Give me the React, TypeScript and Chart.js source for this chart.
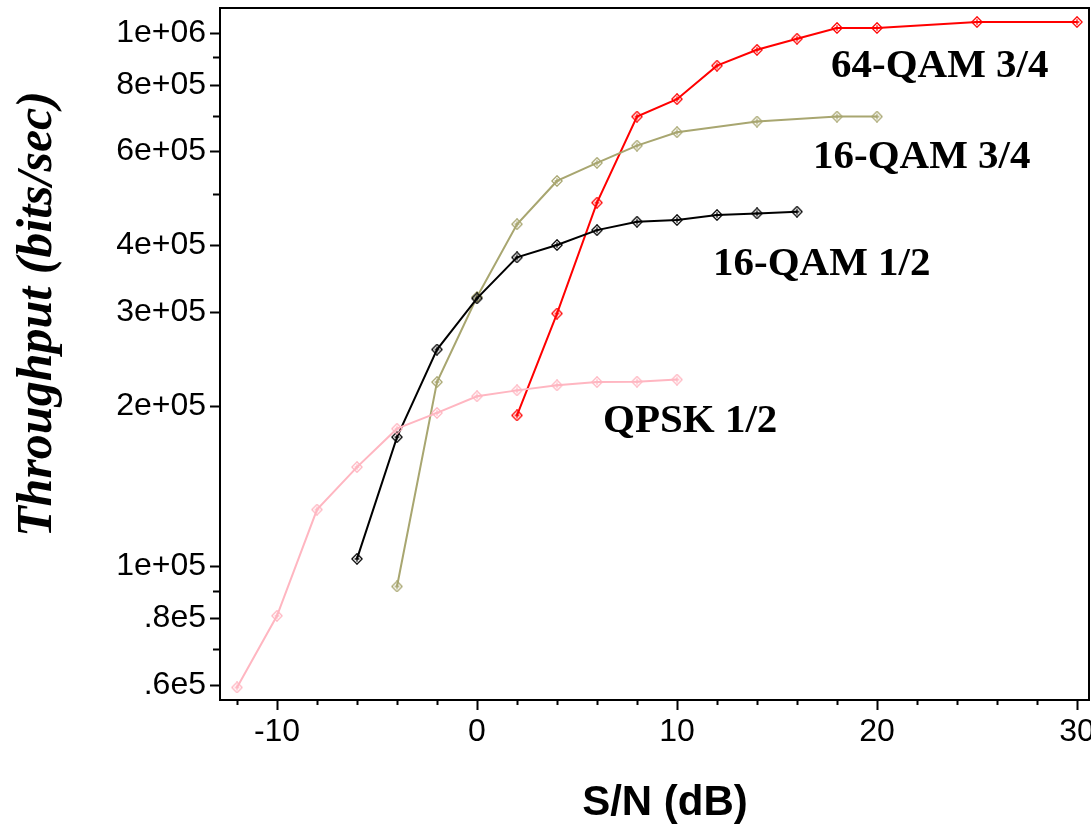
import React, { useEffect, useRef } from 'react';
import { Chart, registerables } from 'chart.js';

Chart.register(...registerables);

// ---- data ----
const qpskSnr = [-12, -10, -8, -6, -4, -2, 0, 2, 4, 6, 8, 10];
const qpskThroughput = [59300, 80800, 127800, 153500, 181200, 194000, 208400, 213800, 218500, 221600, 222000, 224000];

const qam16HalfSnr = [-6, -4, -2, 0, 2, 4, 6, 8, 10, 12, 14, 16];
const qam16HalfThroughput = [103300, 174700, 255000, 318000, 379600, 400400, 427000, 442800, 446000, 455800, 459000, 462400];

const qam16ThreeQSnr = [-4, -2, 0, 2, 4, 6, 8, 10, 14, 18, 20];
const qam16ThreeQThroughput = [91700, 221600, 320000, 438000, 528000, 571000, 615000, 651700, 682300, 697000, 697000];

const qam64ThreeQSnr = [2, 4, 6, 8, 10, 12, 14, 16, 18, 20, 25, 30];
const qam64ThreeQThroughput = [191900, 297900, 480800, 697000, 751600, 868600, 930000, 975600, 1021900, 1021900, 1048600, 1048600];

const seriesNames = ['QPSK 1/2', '16-QAM 1/2', '16-QAM 3/4', '64-QAM 3/4'];
const seriesColors = ['rgb(255,182,193)', 'rgb(0,0,0)', 'rgb(168,166,112)', 'rgb(255,0,0)'];
// label anchor (left, baseline) in data coordinates
const labelSnr = [6.3, 11.8, 16.8, 17.7];
const labelThroughput = [178300, 351600, 557800, 828700];

const xTickValues = [-12, -10, -8, -6, -4, -2, 0, 2, 4, 6, 8, 10, 12, 14, 16, 18, 20, 22, 24, 26, 28, 30];
const xLabeledTicks = [-10, 0, 10, 20, 30];

const yMajorTicks = [60000, 80000, 100000, 200000, 300000, 400000, 600000, 800000, 1000000];
const yMajorLabels = ['.6e5', '.8e5', '1e+05', '2e+05', '3e+05', '4e+05', '6e+05', '8e+05', '1e+06'];
const yMinorTicks = [70000, 90000, 500000, 700000, 900000];

const xTitle = 'S/N (dB)';
const yTitle = 'Throughput (bits/sec)';

function makeMarker(color: string): HTMLCanvasElement {
  const c = document.createElement('canvas');
  c.width = 12;
  c.height = 12;
  const g = c.getContext('2d')!;
  g.strokeStyle = color;
  g.lineWidth = 1.3;
  g.beginPath();
  g.moveTo(6, 0.8);
  g.lineTo(11.2, 6);
  g.lineTo(6, 11.2);
  g.lineTo(0.8, 6);
  g.closePath();
  g.stroke();
  g.beginPath();
  g.moveTo(6, 3.2);
  g.lineTo(6, 8.8);
  g.moveTo(3.6, 6);
  g.lineTo(8.4, 6);
  g.stroke();
  return c;
}

function zeroPadding(scale: any) {
  scale.paddingTop = 0;
  scale.paddingBottom = 0;
  scale.paddingLeft = 0;
  scale.paddingRight = 0;
}

const overlayPlugin = {
  id: 'overlay',
  afterDraw(chart: any) {
    const { ctx, chartArea: a, scales } = chart;
    const xs = scales.x;
    const ys = scales.y;
    ctx.save();
    // frame
    ctx.strokeStyle = '#000';
    ctx.lineWidth = 2;
    ctx.strokeRect(a.left, a.top, a.right - a.left, a.bottom - a.top);
    // tick marks
    ctx.beginPath();
    xs.ticks.forEach((t: any) => {
      const px = Math.round(xs.getPixelForValue(t.value)) + 0.5;
      const len = xLabeledTicks.includes(t.value) ? 10 : 5;
      ctx.moveTo(px, a.bottom);
      ctx.lineTo(px, a.bottom + len);
    });
    ys.ticks.forEach((t: any) => {
      const py = Math.round(ys.getPixelForValue(t.value)) + 0.5;
      const len = yMajorTicks.includes(t.value) ? 10 : 7;
      ctx.moveTo(a.left - len, py);
      ctx.lineTo(a.left, py);
    });
    ctx.stroke();

    // series labels
    ctx.fillStyle = '#000';
    ctx.font = 'bold 41px "Liberation Serif", "Times New Roman", serif';
    ctx.textAlign = 'left';
    ctx.textBaseline = 'alphabetic';
    seriesNames.forEach((name, i) => {
      ctx.fillText(name, xs.getPixelForValue(labelSnr[i]), ys.getPixelForValue(labelThroughput[i]));
    });

    // x title
    ctx.font = 'bold 42px "Liberation Sans", Arial, sans-serif';
    ctx.textAlign = 'center';
    ctx.fillText(xTitle, a.left + 445, a.bottom + 115);

    // y title
    ctx.save();
    ctx.translate(a.left - 182, a.top + 306);
    ctx.rotate(-Math.PI / 2);
    ctx.font = 'italic bold 50px "Liberation Serif", "Times New Roman", serif';
    ctx.textAlign = 'center';
    ctx.textBaseline = 'middle';
    ctx.fillText(yTitle, 0, 0);
    ctx.restore();

    ctx.restore();
  },
};

export default function App() {
  const ref = useRef<HTMLCanvasElement | null>(null);

  useEffect(() => {
    if (!ref.current) return;
    const series = [
      [qpskSnr, qpskThroughput],
      [qam16HalfSnr, qam16HalfThroughput],
      [qam16ThreeQSnr, qam16ThreeQThroughput],
      [qam64ThreeQSnr, qam64ThreeQThroughput],
    ];
    const datasets = series.map(([xs, ys], i) => ({
      label: seriesNames[i],
      data: xs.map((x, j) => ({ x, y: ys[j] })),
      borderColor: seriesColors[i],
      backgroundColor: seriesColors[i],
      borderWidth: 2,
      showLine: true,
      pointStyle: makeMarker(seriesColors[i]) as any,
      pointRadius: 6,
      pointHoverRadius: 6,
      tension: 0,
    }));

    const chart = new Chart(ref.current, {
      type: 'scatter',
      data: { datasets },
      plugins: [overlayPlugin],
      options: {
        animation: false,
        responsive: false,
        devicePixelRatio: 1,
        layout: { autoPadding: false, padding: { top: 8, right: 2, left: 0, bottom: 0 } },
        plugins: {
          legend: { display: false },
          tooltip: { enabled: false },
        },
        scales: {
          x: {
            type: 'linear',
            min: -12.85,
            max: 30.6,
            grid: { display: false },
            border: { display: false },
            afterBuildTicks: (scale: any) => {
              scale.ticks = xTickValues.map((v) => ({ value: v }));
            },
            afterFit: (scale: any) => {
              scale.height = 126;
              zeroPadding(scale);
            },
            ticks: {
              autoSkip: false,
              maxRotation: 0,
              padding: 5,
              color: '#000',
              font: { family: '"Liberation Sans", Arial, sans-serif', size: 32 },
              callback: (v: any) => (xLabeledTicks.includes(Number(v)) ? String(v) : ''),
            },
          },
          y: {
            type: 'logarithmic',
            min: 56170,
            max: 1114000,
            grid: { display: false },
            border: { display: false },
            afterBuildTicks: (scale: any) => {
              scale.ticks = [...yMajorTicks, ...yMinorTicks]
                .sort((p, q) => p - q)
                .map((v) => ({ value: v }));
            },
            afterFit: (scale: any) => {
              scale.width = 220;
              zeroPadding(scale);
            },
            ticks: {
              autoSkip: false,
              padding: 6,
              color: '#000',
              font: { family: '"Liberation Sans", Arial, sans-serif', size: 32 },
              callback: (v: any) => {
                const idx = yMajorTicks.indexOf(Number(v));
                return idx >= 0 ? yMajorLabels[idx] : '';
              },
            },
          },
        },
      },
    });
    return () => chart.destroy();
  }, []);

  return (
    <div style={{ position: 'fixed', left: 0, top: 0, width: 1091, height: 826, background: '#fff' }}>
      <canvas ref={ref} width={1091} height={826} />
    </div>
  );
}
